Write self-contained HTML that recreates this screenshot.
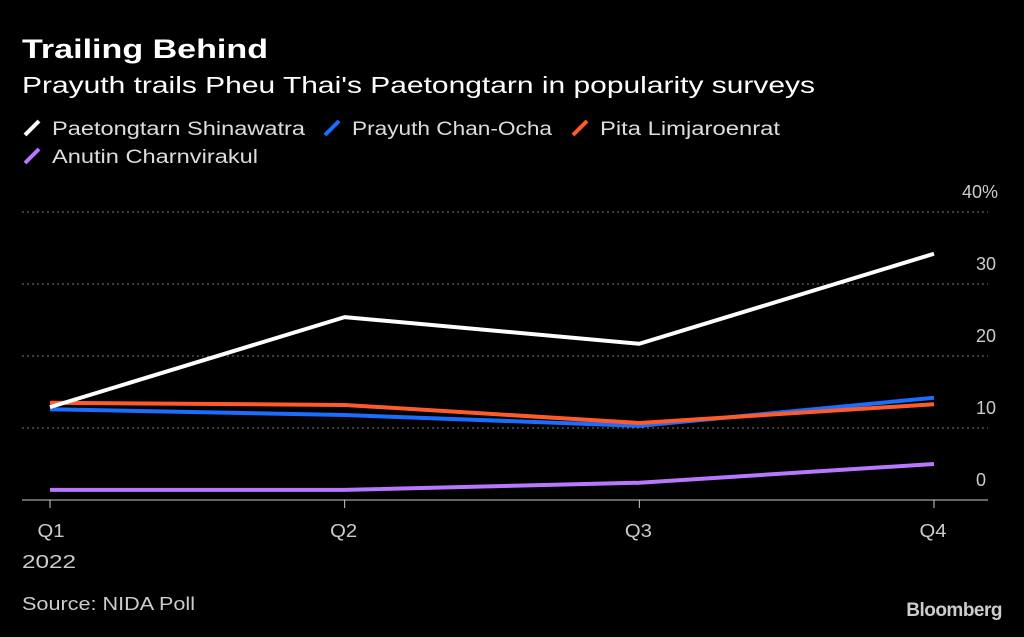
<!DOCTYPE html>
<html><head><meta charset="utf-8"><style>
body{margin:0;background:#000;width:1024px;height:632px;overflow:hidden;font-family:"Liberation Sans",sans-serif;color:#fff}
svg text{font-family:"Liberation Sans",sans-serif}
</style></head><body>
<svg width="1024" height="632">
<text x="22" y="58" font-size="27" font-weight="bold" fill="#fff" textLength="246" lengthAdjust="spacingAndGlyphs">Trailing Behind</text>
<text x="22" y="93" font-size="23" fill="#fff" textLength="793" lengthAdjust="spacingAndGlyphs">Prayuth trails Pheu Thai's Paetongtarn in popularity surveys</text>
<g id="legend"></g>
<g id="grid"></g>
<g id="lines"></g>
<g id="xaxis"></g>
<text x="22" y="568" font-size="18" fill="#ccc" textLength="54" lengthAdjust="spacingAndGlyphs">2022</text>
<text x="22" y="610" font-size="18" fill="#ccc" textLength="173" lengthAdjust="spacingAndGlyphs">Source: NIDA Poll</text>
<text x="1002" y="616" font-size="19" font-weight="bold" fill="#ccc" text-anchor="end" letter-spacing="-0.5">Bloomberg</text>
</svg>
<script>
const categories=["Q1","Q2","Q3","Q4"];
const seriesNames=["Paetongtarn Shinawatra","Prayuth Chan-Ocha","Pita Limjaroenrat","Anutin Charnvirakul"];
const seriesColors=["#ffffff","#1a6dff","#ff5a2a","#b777ff"];
const paetongtarn=[12.9,25.4,21.7,34.2];
const prayuth=[12.6,11.8,10.3,14.2];
const pita=[13.5,13.2,10.7,13.3];
const anutin=[1.4,1.4,2.4,5.0];
const yTicks=[0,10,20,30,40];
const yTickLabels=["0","10","20","30","40%"];
const NS="http://www.w3.org/2000/svg";
function x(i){return 50+i*(934-50)/(categories.length-1);}
function y(v){return 500-v*7.2;}
function mk(t,a,p){const e=document.createElementNS(NS,t);for(const k in a)e.setAttribute(k,a[k]);p.appendChild(e);return e;}
const grid=document.getElementById('grid');
yTicks.forEach((t,i)=>{
  if(t>0){const l=mk('line',{x1:22,x2:988,y1:y(t),y2:y(t),stroke:'#777','stroke-width':1,'stroke-dasharray':'2,3'},grid);
  
  }
  const tx=mk('text',{x:976,y:y(t)-14,'font-size':18,fill:'#ccc','text-anchor':'start'},grid);
  if(t===40)tx.setAttribute('x',962);
  tx.textContent=yTickLabels[i];
  
  
});
const xa=document.getElementById('xaxis');
const ax=mk('line',{x1:22,x2:988,y1:500,y2:500,stroke:'#ccc','stroke-width':1},xa);


categories.forEach((c,i)=>{
  const tk=mk('line',{x1:x(i),x2:x(i),y1:500,y2:508,stroke:'#ccc'},xa);
  
  
  const t=mk('text',{x:x(i)-1,y:537,'font-size':18,fill:'#ccc','text-anchor':'middle',textLength:27,lengthAdjust:'spacingAndGlyphs'},xa);
  if(i===0)t.setAttribute('x',x(i)+1);
  t.textContent=c;
  
  
});
const all=[paetongtarn,prayuth,pita,anutin];
const lg=document.getElementById('lines');
[3,1,2,0].forEach(s=>{
  const d=all[s].map((v,i)=>(i?'L':'M')+x(i)+','+y(v)).join(' ');
  const p=mk('path',{d:d,fill:'none',stroke:seriesColors[s],'stroke-width':4,'stroke-linejoin':'round'},lg);
  
  
});
const leg=document.getElementById('legend');
const lpos=[[22,133],[322,133],[570,133],[22,161]];
const lwid=[253,200,180,206];
seriesNames.forEach((n,s)=>{
  const [lx,ly]=lpos[s];
  const g=mk('g',{},leg);
  
  
  mk('line',{x1:lx+3,y1:ly+2,x2:lx+17,y2:ly-12,stroke:seriesColors[s],'stroke-width':4},g);
  const t=mk('text',{x:lx+30,y:ly+2,'font-size':19,fill:'#ddd',textLength:lwid[s],lengthAdjust:'spacingAndGlyphs'},g);
  t.textContent=n;
});
</script>
</body></html>
